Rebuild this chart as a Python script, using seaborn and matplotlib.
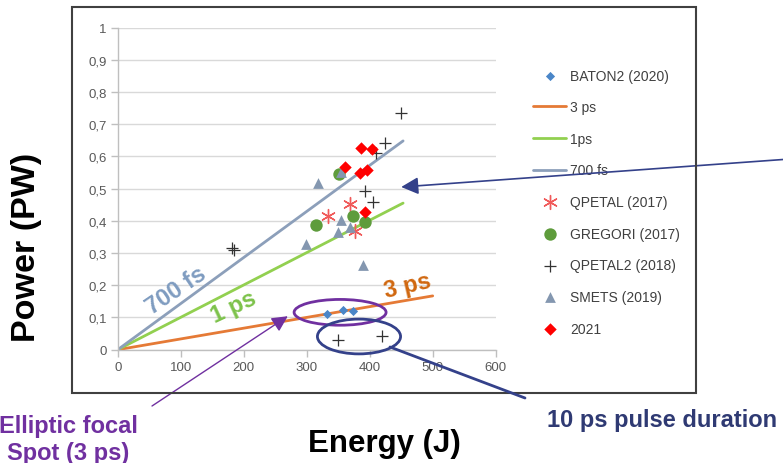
import matplotlib
matplotlib.use("Agg")
import matplotlib.pyplot as plt
import seaborn as sns
from matplotlib.patches import Ellipse, Rectangle
from matplotlib.ticker import FuncFormatter

# --- data (Energy in J, Power in PW) ---
baton_E = [332, 358, 373]
baton_P = [0.112, 0.123, 0.119]

qpetal_E = [334, 369, 377]
qpetal_P = [0.415, 0.451, 0.369]

gregori_E = [314, 352, 373, 393]
gregori_P = [0.387, 0.545, 0.415, 0.395]

qpetal2_E = [181, 185, 350, 393, 406, 410, 419, 424, 450]
qpetal2_P = [0.317, 0.310, 0.031, 0.493, 0.459, 0.611, 0.043, 0.642, 0.735]

smets_E = [299, 318, 350, 354, 355, 368, 390]
smets_P = [0.327, 0.518, 0.364, 0.403, 0.552, 0.382, 0.262]

y2021_E = [361, 385, 386, 395, 404, 392]
y2021_P = [0.566, 0.549, 0.625, 0.558, 0.622, 0.426]

# pulse-duration lines (end points)
line_3ps_E = [0, 500]
line_3ps_P = [0, 0.167]
line_1ps_E = [0, 453]
line_1ps_P = [0, 0.455]
line_700fs_E = [0, 453]
line_700fs_P = [0, 0.648]

x_ticks = [0, 100, 200, 300, 400, 500, 600]
y_ticks = [0, 0.1, 0.2, 0.3, 0.4, 0.5, 0.6, 0.7, 0.8, 0.9, 1]

legend_order = ["BATON2 (2020)", "3 ps", "1ps", "700 fs", "QPETAL (2017)",
                "GREGORI (2017)", "QPETAL2 (2018)", "SMETS (2019)", "2021"]

sns.set_theme(style="white")
plt.rcParams['font.family'] = ['Liberation Sans', 'DejaVu Sans']

W, H = 783, 464
def fp(x, y):
    # pixel position (from top-left) -> figure fraction
    return (x / W, 1 - y / H)

fig = plt.figure(figsize=(7.83, 4.64), dpi=100)
ax = fig.add_axes([117.7 / W, 1 - 350.7 / H, (495.7 - 117.7) / W, (350.7 - 28.5) / H])

# lines
sns.lineplot(x=line_3ps_E, y=line_3ps_P, ax=ax, color="#e57a36", lw=2, label="3 ps")
sns.lineplot(x=line_1ps_E, y=line_1ps_P, ax=ax, color="#92d050", lw=2, label="1ps")
sns.lineplot(x=line_700fs_E, y=line_700fs_P, ax=ax, color="#8c9fba", lw=2, label="700 fs")

# scatter series
sns.scatterplot(x=baton_E, y=baton_P, ax=ax, marker="D", s=22, color="#4a86c8",
                linewidth=0, label="BATON2 (2020)", zorder=4)
sns.scatterplot(x=qpetal_E, y=qpetal_P, ax=ax, marker=(6, 2, 0), s=100, color="#f05a5a",
                linewidth=1.0, label="QPETAL (2017)", zorder=4)
sns.scatterplot(x=gregori_E, y=gregori_P, ax=ax, marker="o", s=80, color="#5e9c3c",
                linewidth=0, label="GREGORI (2017)", zorder=4)
sns.scatterplot(x=qpetal2_E, y=qpetal2_P, ax=ax, marker="+", s=85, color="#333333",
                linewidth=0.9, label="QPETAL2 (2018)", zorder=4)
sns.scatterplot(x=smets_E, y=smets_P, ax=ax, marker="^", s=60, color="#8497b0",
                linewidth=0, label="SMETS (2019)", zorder=4)
sns.scatterplot(x=y2021_E, y=y2021_P, ax=ax, marker="D", s=40, color="#ff0000",
                linewidth=0, label="2021", zorder=5)

# axes look (Excel style)
ax.set_xlim(0, 600)
ax.set_ylim(0, 1)
ax.set_xticks(x_ticks)
ax.set_yticks(y_ticks)
comma = FuncFormatter(lambda v, p: f"{v:g}".replace(".", ","))
ax.xaxis.set_major_formatter(comma)
ax.yaxis.set_major_formatter(comma)
ax.set_xlabel("")
ax.set_ylabel("")
for s in ["top", "right"]:
    ax.spines[s].set_visible(False)
for s in ["left", "bottom"]:
    ax.spines[s].set_color("#bfbfbf")
    ax.spines[s].set_linewidth(1)
ax.yaxis.grid(True, color="#d9d9d9", lw=1)
ax.xaxis.grid(False)
ax.set_axisbelow(True)
ax.tick_params(axis="both", which="both", direction="out", length=5, width=1,
               color="#bfbfbf", labelcolor="#595959", labelsize=9.5, pad=3,
               bottom=True, left=True)
ax.patch.set_alpha(0)

# legend
handles, labels = ax.get_legend_handles_labels()
hmap = dict(zip(labels, handles))
ax.legend([hmap[l] for l in legend_order], legend_order, loc="upper left",
          bbox_to_anchor=fp(533, 69.5), bbox_transform=fig.transFigure,
          frameon=False, fontsize=10, labelspacing=1.27, handlelength=2.4,
          handletextpad=0.25, borderpad=0, borderaxespad=0, labelcolor="#404040")

# labels on lines
ax.text(93, 0.185, "700 fs", color="#7f9cc0", fontsize=17, fontweight="bold",
        rotation=34, ha="center", va="center")
ax.text(184, 0.135, "1 ps", color="#7cc24a", fontsize=17, fontweight="bold",
        rotation=25, ha="center", va="center")
ax.text(460, 0.200, "3 ps", color="#d0670f", fontsize=17, fontweight="bold",
        rotation=13, ha="center", va="center")

# ellipses
ax.add_patch(Ellipse((353, 0.116), 146, 0.080, fill=False, ec="#7030a0", lw=2,
                     clip_on=False, zorder=6))
ax.add_patch(Ellipse((383, 0.041), 132, 0.108, fill=False, ec="#34418a", lw=2,
                     clip_on=False, zorder=6))

# arrows / connectors
ax.annotate("", xy=(270, 0.104), xycoords="data", xytext=fp(152, 407),
            textcoords="figure fraction",
            arrowprops=dict(arrowstyle="-|>", color="#7030a0", lw=1,
                            mutation_scale=24, shrinkA=0, shrinkB=0),
            annotation_clip=False, zorder=7)
ax.annotate("", xy=(450, 0.505), xycoords="data", xytext=fp(790, 160),
            textcoords="figure fraction",
            arrowprops=dict(arrowstyle="-|>", color="#34418a", lw=1.2,
                            mutation_scale=26, shrinkA=0, shrinkB=0),
            annotation_clip=False, zorder=7)
fig.add_artist(plt.Line2D([fp(390, 348)[0], fp(525, 399)[0]],
                          [fp(390, 348)[1], fp(525, 399)[1]],
                          transform=fig.transFigure, color="#34418a", lw=2))

# chart frame
x0, y0 = fp(71.7, 394)
fig.add_artist(Rectangle((x0, y0), (696 - 71.7) / W, (394 - 8) / H,
                         transform=fig.transFigure, fill=False, ec="#404040", lw=1.5))

# titles and callout texts
fig.text(*fp(27, 247), "Power (PW)", rotation=90, ha="center", va="center",
         fontsize=24.5, fontweight="bold", color="black")
fig.text(*fp(384, 452), "Energy (J)", ha="center", va="baseline",
         fontsize=22.5, fontweight="bold", color="black")
fig.text(*fp(68, 433), "Elliptic focal", ha="center", va="baseline",
         fontsize=17, fontweight="bold", color="#7030a0")
fig.text(*fp(68, 460), "Spot (3 ps)", ha="center", va="baseline",
         fontsize=17, fontweight="bold", color="#7030a0")
fig.text(*fp(662, 427), "10 ps pulse duration", ha="center", va="baseline",
         fontsize=17, fontweight="bold", color="#2f3a73")

fig.savefig("out.png", dpi=100)
